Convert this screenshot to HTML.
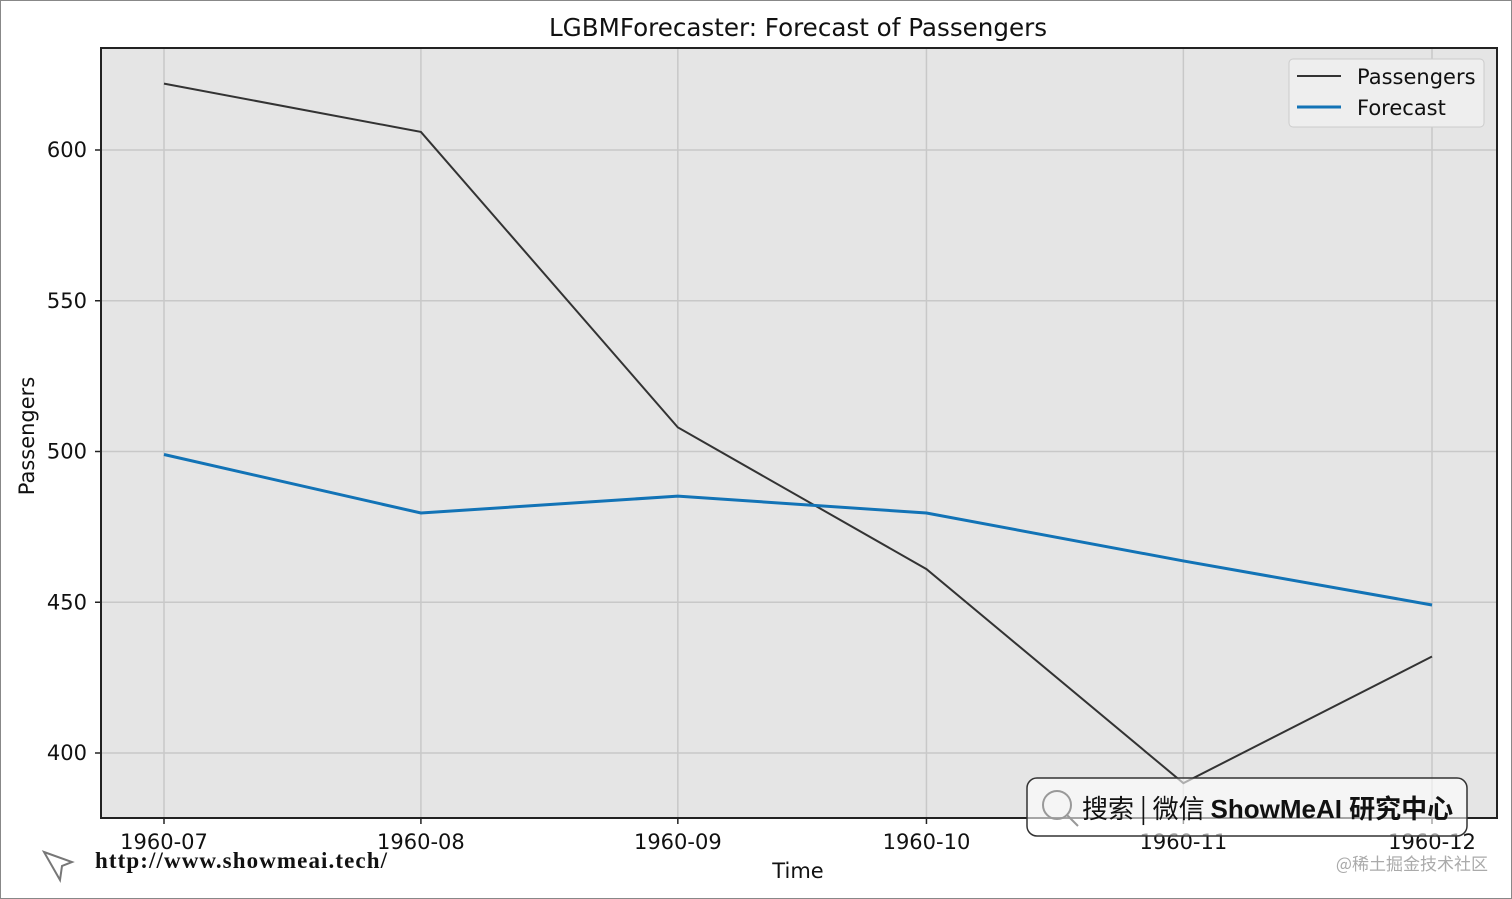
<!DOCTYPE html>
<html><head><meta charset="utf-8"><style>
body{margin:0;background:#fff;}
svg{display:block;font-family:"DejaVu Sans","Liberation Sans","Noto Sans CJK SC",sans-serif;}
</style></head><body>
<svg id="chart" width="1512" height="899" viewBox="0 0 1512 899">
<rect x="0.5" y="0.5" width="1511" height="898" fill="#fff" stroke="#888"/>
<text x="798" y="36" font-size="24.6" text-anchor="middle" fill="#111">LGBMForecaster: Forecast of Passengers</text>
<rect x="101" y="48" width="1396" height="770" fill="#e5e5e5"/>
<g id="grid"></g>
<g id="series"></g>
<rect x="101" y="48" width="1396" height="770" fill="none" stroke="#222" stroke-width="2"/>
<g id="ticks"></g>
<text x="798" y="878" font-size="21" text-anchor="middle" fill="#111">Time</text>
<text transform="translate(34,436) rotate(-90)" font-size="21" text-anchor="middle" fill="#111">Passengers</text>
<g>
<rect x="1289" y="59" width="195" height="68" rx="4" fill="#eee" stroke="#ccc"/>
<line x1="1297" y1="76" x2="1341" y2="76" stroke="#333" stroke-width="2"/>
<text x="1357" y="84" font-size="21" fill="#111">Passengers</text>
<line x1="1297" y1="107" x2="1341" y2="107" stroke="#1273b6" stroke-width="3"/>
<text x="1357" y="115" font-size="21" fill="#111">Forecast</text>
</g>
<g>
<rect x="1027" y="778" width="440" height="58" rx="10" fill="rgba(255,255,255,0.6)" stroke="#333" stroke-width="1.5"/>
<circle cx="1057" cy="805" r="14" fill="none" stroke="#999" stroke-width="2"/>
<line x1="1067" y1="815" x2="1078" y2="826" stroke="#999" stroke-width="2"/>
<text x="1082" y="818" font-size="26" fill="#111" font-family="'Noto Sans CJK SC',sans-serif">搜索 | 微信 <tspan font-weight="bold" font-family="'Liberation Sans','Noto Sans CJK SC',sans-serif">ShowMeAI 研究中心</tspan></text>
</g>
<g>
<path d="M44 852 L72 862 L62 866 L60 880 Z" fill="none" stroke="#777" stroke-width="2"/>
<text x="95" y="868" font-size="23" font-weight="bold" fill="#111" font-family="'Liberation Serif',serif" textLength="292">http://www.showmeai.tech/</text>
</g>
<text x="1488" y="870" font-size="17" text-anchor="end" fill="#aaa" font-family="'Noto Sans CJK SC',sans-serif">@稀土掘金技术社区</text>
</svg>
<script>
const categories=["1960-07","1960-08","1960-09","1960-10","1960-11","1960-12"];
const passengers=[622,606,508,461,390,432];
const forecast=[499,479.6,485.2,479.6,463.7,449.1];
const yTicks=[400,450,500,550,600];
const NS="http://www.w3.org/2000/svg";
function dayOf(c){return (new Date(c+"-01T00:00:00Z")-new Date(categories[0]+"-01T00:00:00Z"))/86400000;}
const totalDays=dayOf(categories[categories.length-1]);
function xs(i){return 164+dayOf(categories[i])*(1432-164)/totalDays;}
function ys(v){return 753-(v-400)*(603/200);}
function mk(tag,attrs,parent){const e=document.createElementNS(NS,tag);for(const k in attrs)e.setAttribute(k,attrs[k]);parent.appendChild(e);return e;}
const grid=document.getElementById('grid'),ticks=document.getElementById('ticks'),series=document.getElementById('series');
categories.forEach((c,i)=>{
 const g=mk('line',{x1:xs(i),x2:xs(i),y1:48,y2:818,stroke:'#c8c8c8','stroke-width':1.5},grid);
 
 
 const t=mk('line',{x1:xs(i),x2:xs(i),y1:818,y2:824,stroke:'#222','stroke-width':1.5},ticks);
 
 
 const l=mk('text',{x:xs(i),y:849,'font-size':21,'text-anchor':'middle',fill:'#111'},ticks);
 l.textContent=c;
 
 
});
yTicks.forEach(v=>{
 const g=mk('line',{x1:101,x2:1497,y1:ys(v),y2:ys(v),stroke:'#c8c8c8','stroke-width':1.5},grid);
 
 
 const t=mk('line',{x1:95,x2:101,y1:ys(v),y2:ys(v),stroke:'#222','stroke-width':1.5},ticks);
 
 
 const l=mk('text',{x:87,y:ys(v)+7,'font-size':21,'text-anchor':'end',fill:'#111'},ticks);
 l.textContent=v;
 
 
});
const p1=mk('polyline',{points:passengers.map((v,i)=>xs(i)+','+ys(v)).join(' '),fill:'none',stroke:'#333','stroke-width':2},series);


const p2=mk('polyline',{points:forecast.map((v,i)=>xs(i)+','+ys(v)).join(' '),fill:'none',stroke:'#1273b6','stroke-width':3},series);


</script>
</body></html>
